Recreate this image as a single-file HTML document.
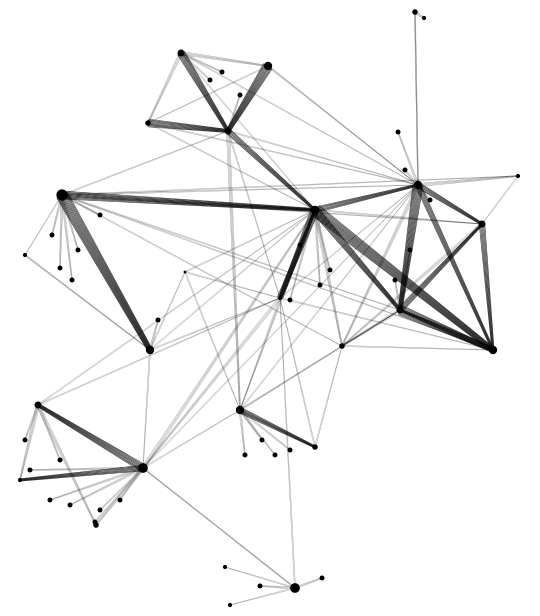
<!DOCTYPE html>
<html><head><meta charset="utf-8"><style>
html,body{margin:0;padding:0;background:#fff;}
svg{display:block;}
</style></head><body>
<svg id="net" width="540" height="616" viewBox="0 0 540 616" xmlns="http://www.w3.org/2000/svg">
<g id="edges"></g>
<g id="nodes"></g>
</svg>
<script>
const nodeIds=["A","B","C","D","E","F","G","H","I","J","K","L","M","N","O","P","Q","R","S","T","U","V","W","X","Y","Z","E2"];
const nodeX=[181,268,148,228,415,418,518,482,315,62,150,25,493,342,400,240,315,38,143,295,225,230,20,96,280,185,424];
const nodeY=[53,66,123,131,12,185,176,224,210,195,350,255,350,346,310,410,447,405,468,588,567,605,480,525,298,272,18];
const nodeSize=[5,6,4,5,4,6,3,5,6,8,6,3,6,4,5,6,4,5,7,7,3,3,3,4,3,2,3];
const edgeFrom=["A","A","A","B","C","B","D","D","D","J","J","J","J","J","I","I","I","I","I","I","F","F","F","F","F","O","O","N","H","Y","Y","S","S","S","S","P","T","T","R","R","K","Z","Z","E","J","C","I","D","A","B","L","K","F","G","H","M","O","Y","Q","S","P","E","J","J","J","J","C","B","A","Y","Y","P","P","S","S","R","R","L","K","Z","N","Q","T","T","J","J","K"];
const edgeTo=  ["B","C","D","D","D","C","P","I","Y","I","K","L","F","O","F","H","O","M","N","Y","H","O","M","G","E","M","H","M","M","S","P","R","W","X","T","Q","U","V","W","X","Z","I","P","F","N","I","P","F","I","F","K","S","N","H","N","O","N","I","N","P","O","E2","H","M","G","D","F","F","F","M","F","F","O","I","F","I","Y","K","Y","Y","O","Y","S","Y","I","I","I"];
const edgeWeight=[2,2,4,5,4,1,2,3,1,4,6,1,1,1,3,1,4,6,2,4,3,5,3,2,1,5,3,1,3,2,1,4,3,2,1,3,1,1,2,2,1,1,1,1,1,1,1,1,1,1,1,1,2,1,2,3,2,3,1,1,1,2,1,1,1,1,1,1,1,1,1,1,1,2,1,1,1,1,1,1,1,1,1,1,2,2,1];
const leafParent=["J","J","J","J","J","P","P","P","P","P","S","S","S","S","S","S","F","F","F","I","I","I","I","A","A","D","T","T","R","R","K","O","O"];
const leafX=[72,60,78,100,52,245,275,262,290,315,50,70,120,100,30,95,398,430,405,300,290,320,330,222,210,240,322,260,25,60,158,395,410];
const leafY=[280,268,250,215,235,455,455,440,450,447,500,505,500,510,470,522,132,200,170,245,300,285,270,72,80,95,578,586,440,460,320,280,250];
const ns="http://www.w3.org/2000/svg";
const idx={};nodeIds.forEach((n,i)=>idx[n]=i);
const eg=document.getElementById('edges'),ng=document.getElementById('nodes');
function line(x1,y1,x2,y2,w){
  const k=Math.max(1,w*2),dx=x2-x1,dy=y2-y1,L=Math.hypot(dx,dy)||1,px=-dy/L,py=dx/L;
  for(let j=0;j<k;j++){
    const o=(j-(k-1)/2)*1.1;
    const l=document.createElementNS(ns,'line');
    
    
    l.setAttribute('x1',x1+px*o);l.setAttribute('y1',y1+py*o);
    l.setAttribute('x2',x2+px*o*0.4);l.setAttribute('y2',y2+py*o*0.4);
    l.setAttribute('stroke','#000');
    l.setAttribute('stroke-width',w>=3?0.7:0.45);
    l.setAttribute('stroke-opacity',w>=3?0.75:0.4);
    eg.appendChild(l);
  }
}
edgeFrom.forEach((f,i)=>{const a=idx[f],b=idx[edgeTo[i]];line(nodeX[a],nodeY[a],nodeX[b],nodeY[b],edgeWeight[i]);});
leafParent.forEach((p,i)=>{const a=idx[p];line(nodeX[a],nodeY[a],leafX[i],leafY[i],1.5);
  const c=document.createElementNS(ns,'circle');
  
  
  c.setAttribute('cx',leafX[i]);c.setAttribute('cy',leafY[i]);c.setAttribute('r',2.5);c.setAttribute('fill','#000');ng.appendChild(c);});
nodeIds.forEach((n,i)=>{
  const c=document.createElementNS(ns,'circle');
  
  
  c.setAttribute('cx',nodeX[i]);c.setAttribute('cy',nodeY[i]);c.setAttribute('r',nodeSize[i]*0.7);c.setAttribute('fill','#000');ng.appendChild(c);});
</script>
</body></html>
